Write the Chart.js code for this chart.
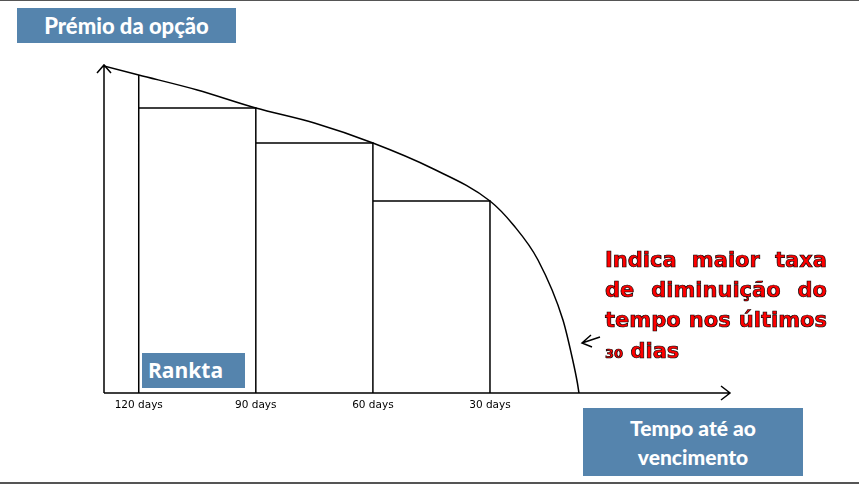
<!DOCTYPE html><html><head><meta charset="utf-8">
<script src="https://cdn.jsdelivr.net/npm/chart.js@4"></script>
<style>
body{margin:0;width:859px;height:486px;position:relative;background:#fff;font-family:Lato,sans-serif;overflow:hidden}
#c{position:absolute;left:0;top:0}
.box{position:absolute;background:#5584ad;color:#fff;font-weight:900;text-align:center}
.red{position:absolute;left:605px;width:222px;color:#ff0000;font-family:'DejaVu Sans',sans-serif;font-weight:700;font-size:21px;line-height:30px;text-align:justify;text-align-last:justify;-webkit-text-stroke:0.7px #000;white-space:nowrap}
.line{position:absolute;left:0;width:859px;height:1px;background:#555}
</style></head><body>
<div class="line" style="top:0"></div><div class="line" style="top:482px;height:2px"></div>
<canvas id="c" width="859" height="486"></canvas>
<div class="box" style="left:17px;top:8px;width:219px;height:35px;line-height:35px;font-size:22px">Prémio da opção</div>
<div class="box" style="left:583px;top:408px;width:220px;height:68px;font-size:21px;line-height:29px;padding-top:5px;box-sizing:border-box">Tempo até ao<br>vencimento</div>
<div class="box" style="left:142px;top:353px;width:103px;height:35px;line-height:35px;font-size:21px;font-weight:700;font-family:'Open Sans';text-align:left;padding-left:6px;box-sizing:border-box">Rankta</div>
<div class="red" style="top:245px;white-space:normal">Indica maior taxa</div>
<div class="red" style="top:275px;white-space:normal">de diminuição do</div>
<div class="red" style="top:305px;white-space:normal">tempo nos últimos</div>
<div class="red" style="top:336px;text-align:left;text-align-last:left"><span style="font-size:13px">30</span> dias</div>
<script>
const curveDays=[129,120,105,90,75,60,45,30,24,17.7,11.3,8.8,7.6,7.2];
const curvePremium=[327,318,303,285,270,250,225,192,168,133,73,33,10,0];
const barDays=[120,120,120,90,90,90,60,60,60,30,30];
const barPremium=[318,0,285,285,0,250,250,0,192,192,0];
const tickDays=[120,90,60,30];
const toPts=(xs,ys)=>xs.map((x,i)=>({x,y:ys[i]}));
const arrows={id:'arrows',afterDraw(ch){const c=ch.ctx,a=ch.chartArea;c.save();c.strokeStyle='#000';c.lineWidth=1.5;
c.beginPath();c.moveTo(a.left,a.bottom);c.lineTo(a.left,a.top);c.moveTo(a.left,a.bottom);c.lineTo(a.right,a.bottom);
c.moveTo(a.left-7,a.top+8);c.lineTo(a.left,a.top);c.lineTo(a.left+7,a.top+8);
c.moveTo(a.right-9,a.bottom-7);c.lineTo(a.right,a.bottom);c.lineTo(a.right-9,a.bottom+7);
c.moveTo(600,337);c.lineTo(582,343);c.moveTo(591,335);c.lineTo(582,343);c.lineTo(592,347);c.stroke();c.restore();}};
new Chart(document.getElementById('c'),{type:'scatter',data:{datasets:[
{data:toPts(curveDays,curvePremium),showLine:true,borderColor:'#000',borderWidth:1.5,pointRadius:0,cubicInterpolationMode:'monotone'},
{data:toPts(barDays,barPremium),showLine:true,borderColor:'#000',borderWidth:1.5,pointRadius:0,tension:0}]},
options:{responsive:false,animation:false,layout:{padding:{left:104,top:65,right:129,bottom:0}},
plugins:{legend:{display:false},tooltip:{enabled:false}},
scales:{x:{type:'linear',reverse:true,min:-31.5,max:128.9,grid:{display:false,drawTicks:false},border:{display:false},
afterBuildTicks:s=>{s.ticks=tickDays.map(v=>({value:v}))},afterFit:s=>{s.height=93},
ticks:{padding:6,color:'#000',font:{family:'DejaVu Sans',size:10.5},callback:v=>v+' days'}},
y:{display:false,min:0,max:328}}},plugins:[arrows]});
</script></body></html>
